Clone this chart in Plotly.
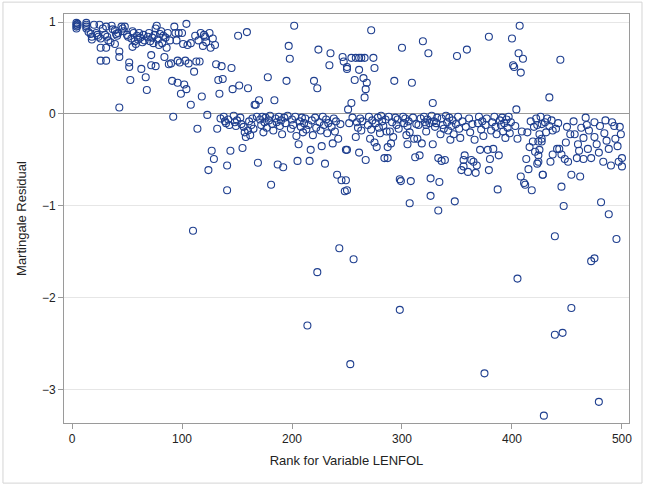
import plotly.graph_objects as go

# Martingale residuals vs rank of LENFOL

# ranks 1-42
rank_a = [4, 4, 4, 4, 5, 5, 13, 13, 13, 13, 15, 17, 18, 18, 20, 22, 23, 24, 25, 26,
          26, 26, 28, 30, 31, 31, 31, 32, 33, 35, 36, 37, 39, 39, 40, 41, 42]
resid_a = [0.99, 0.97, 0.95, 0.93, 0.98, 0.96, 0.99, 0.97, 0.95, 0.93, 0.89, 0.87, 0.84, 0.81, 0.97, 0.88, 0.86, 0.84, 0.97, 0.82,
           0.72, 0.58, 0.93, 0.86, 0.95, 0.72, 0.58, 0.84, 0.80, 0.78, 0.96, 0.92, 0.91, 0.76, 0.87, 0.85, 0.88]

# ranks 43-80
rank_b = [43, 43, 43, 45, 46, 47, 48, 50, 51, 52, 52, 53, 54, 55, 55, 56, 57, 58, 59, 60,
          61, 62, 63, 64, 65, 66, 67, 68, 69, 70, 71, 72, 72, 73, 74, 75, 76, 76, 77, 78,
          79, 80]
resid_b = [0.68, 0.62, 0.07, 0.95, 0.93, 0.90, 0.95, 0.86, 0.84, 0.56, 0.51, 0.37, 0.82, 0.90, 0.73, 0.88, 0.79, 0.76, 0.85, 0.81,
           0.88, 0.83, 0.49, 0.78, 0.86, 0.80, 0.40, 0.26, 0.84, 0.88, 0.79, 0.64, 0.53, 0.83, 0.77, 0.86, 0.93, 0.52, 0.96, 0.81,
           0.75, 0.87]

# ranks 81-130
rank_c = [81, 82, 83, 84, 85, 86, 87, 88, 89, 90, 91, 92, 93, 94, 95, 96, 96, 97, 98, 99,
          100, 101, 102, 103, 104, 104, 105, 106, 108, 108, 110, 111, 112, 113, 114, 115, 116, 117, 118, 119,
          120, 121, 122, 123, 124, 125, 126, 127, 128, 129, 130]
resid_c = [0.90, 0.77, 0.85, 0.62, 0.83, 0.72, 0.88, 0.54, 0.80, 0.55, 0.36, -0.03, 0.95, 0.88, 0.80, 0.58, 0.34, 0.88, 0.56, 0.22,
           0.88, 0.76, 0.32, 0.58, 0.27, 0.98, 0.75, 0.55, 0.10, 0.77, -1.27, 0.46, 0.85, 0.57, -0.16, 0.80, 0.57, 0.88, 0.19, 0.74,
           0.86, 0.84, 0.78, -0.01, -0.61, 0.88, 0.72, -0.40, 0.82, -0.49, 0.75]

# ranks 131-170
rank_d = [131, 132, 133, 134, 135, 136, 137, 138, 139, 140, 141, 141, 142, 143, 144, 145, 146, 147, 148, 149,
          150, 151, 152, 153, 154, 155, 156, 157, 158, 159, 160, 160, 161, 162, 163, 164, 165, 166, 167, 168,
          169, 170]
resid_d = [0.54, -0.16, 0.37, 0.22, -0.05, 0.52, 0.38, -0.03, -0.08, -0.10, -0.56, -0.83, -0.06, -0.12, -0.40, 0.50, 0.27, -0.02, -0.09, -0.13,
           -0.07, 0.85, 0.31, -0.04, -0.11, -0.37, -0.14, -0.20, -0.25, 0.89, 0.28, -0.18, -0.08, -0.23, -0.12, -0.05, -0.16, 0.10, 0.10, -0.03,
           -0.53, 0.15]

# ranks 171-250
rank_e = [171, 172, 173, 174, 175, 176, 177, 178, 179, 180, 181, 182, 183, 184, 185, 186, 187, 188, 189, 190,
          191, 192, 193, 194, 195, 196, 197, 198, 199, 200, 201, 202, 203, 204, 205, 206, 207, 208, 209, 210,
          211, 212, 213, 214, 215, 216, 217, 218, 219, 220, 221, 222, 223, 223, 224, 225, 226, 227, 228, 229,
          230, 231, 232, 233, 234, 235, 236, 237, 238, 239, 240, 241, 242, 243, 244, 245, 246, 247, 248, 249,
          250]
resid_e = [-0.06, -0.12, -0.03, -0.20, -0.09, -0.04, -0.15, 0.40, -0.07, -0.02, -0.77, -0.11, -0.18, 0.15, -0.05, -0.09, -0.55, -0.03, -0.13, -0.07,
           -0.22, -0.58, -0.04, -0.10, 0.36, -0.02, 0.74, 0.60, -0.16, -0.06, -0.12, 0.96, -0.03, -0.24, -0.51, -0.33, -0.08, -0.14, -0.04, -0.20,
           -0.10, -0.05, -0.17, -2.30, -0.12, -0.51, -0.39, -0.07, -0.23, 0.36, -0.04, -0.15, 0.28, -1.72, 0.70, -0.09, -0.18, -0.35, -0.03, -0.12,
           -0.54, -0.06, -0.21, -0.10, 0.53, 0.66, -0.14, -0.32, -0.05, -0.19, -0.08, -0.66, -0.27, -1.46, -0.11, -0.72, 0.62, 0.57, -0.84, -0.39,
           0.51]

# ranks 250-340
rank_f = [250, 251, 250, 249, 250, 252, 253, 254, 254, 255, 256, 257, 258, 258, 259, 260, 261, 261, 261, 262,
          263, 263, 264, 265, 266, 266, 267, 267, 268, 269, 270, 271, 272, 272, 273, 274, 275, 275, 276, 277,
          278, 279, 280, 281, 282, 283, 284, 285, 286, 287, 287, 288, 289, 290, 291, 292, 293, 294, 295, 296,
          297, 298, 298, 299, 300, 301, 302, 303, 304, 305, 305, 306, 307, 307, 308, 309, 310, 311, 312, 313,
          314, 315, 316, 317, 318, 319, 320, 321, 322, 322, 323, 324, 325, 326, 326, 327, 328, 328, 329, 330,
          331, 332, 333, 333, 334, 335, 336, 336, 337, 338, 339, 340]
resid_f = [0.49, 0.05, -0.39, -0.72, -0.83, -0.10, -2.72, 0.61, 0.12, -0.04, -1.58, 0.37, 0.61, -0.25, -0.09, -0.15, 0.61, 0.48, -0.42, -0.05,
           0.61, -0.18, -0.08, 0.39, 0.61, 0.18, 0.27, -0.50, 0.34, -0.12, -0.03, -0.27, 0.91, -0.17, -0.07, 0.61, 0.50, -0.31, -0.10, -0.36,
           -0.04, -0.15, -0.21, -0.02, -0.08, -0.13, -0.48, -0.06, -0.19, -0.48, -0.36, -0.03, -0.19, -0.32, -0.09, -0.25, 0.36, -0.04, -0.12, -0.06,
           -0.16, -0.71, -2.13, -0.73, 0.72, -0.03, -0.10, -0.05, -0.23, -0.13, -0.33, -0.08, -0.20, -0.97, -0.73, 0.34, -0.04, -0.27, -0.47, -0.11,
           -0.27, -0.12, -0.45, -0.05, -0.32, 0.79, -0.03, -0.09, -0.12, -0.19, -0.06, 0.66, -0.10, -0.70, -0.89, -0.02, 0.12, -0.33, -0.08, -0.14,
           -0.10, -0.04, -0.48, -1.05, -0.74, -0.22, -0.05, -0.51, -0.12, -0.16, -0.50, -0.02]

# ranks 341-429
rank_g = [341, 342, 343, 344, 345, 346, 347, 348, 349, 350, 351, 352, 353, 354, 355, 356, 356, 357, 358, 359,
          360, 361, 362, 363, 364, 365, 366, 367, 368, 369, 370, 371, 372, 373, 374, 375, 376, 377, 378, 379,
          379, 380, 381, 382, 383, 384, 385, 386, 387, 388, 389, 390, 391, 392, 393, 394, 395, 396, 397, 398,
          399, 400, 401, 402, 403, 404, 405, 405, 406, 407, 408, 408, 409, 410, 411, 412, 413, 414, 415, 416,
          417, 418, 419, 420, 421, 422, 423, 423, 424, 425, 426, 427, 428, 429]
resid_g = [-0.09, -0.18, -0.04, -0.28, -0.13, -0.07, -0.22, -0.95, -0.11, 0.63, -0.03, -0.16, -0.26, -0.61, -0.08, -0.50, -0.57, -0.45, -0.14, 0.70,
           -0.63, -0.05, -0.20, -0.50, -0.11, -0.52, -0.28, -0.64, -0.56, -0.10, -0.03, -0.39, -0.17, -0.08, -0.24, -2.82, -0.12, -0.05, -0.39, 0.84,
           -0.61, -0.49, -0.18, -0.09, -0.38, -0.03, -0.14, -0.22, -0.82, -0.45, -0.07, -0.12, -0.04, -0.19, -0.10, -0.26, -0.06, -0.15, -0.03, -0.21,
           -0.09, 0.82, 0.53, 0.51, -0.13, 0.05, -0.27, -1.79, 0.66, 0.96, 0.45, -0.68, -0.19, 0.60, -0.75, -0.77, -0.49, -0.20, -0.60, -0.36,
           -0.08, -0.83, -0.30, -0.14, -0.41, -0.05, -0.54, -0.12, -0.45, -0.22, -0.03, -0.30, -0.66, -3.28]

# ranks 424-500
rank_h = [432, 430, 427, 434, 437, 440, 427, 424, 425, 424, 428, 435, 437, 441, 443, 445, 448, 450, 453, 457,
          451, 454, 462, 445, 459, 460, 465, 461, 467, 468, 465, 469, 472, 475, 475, 479, 480, 483, 485, 486,
          488, 490, 493, 494, 497, 498, 499, 500, 500, 481, 488, 439, 495, 444, 434, 447, 439, 446, 454, 472,
          475, 479, 431, 436, 442, 449, 456, 463, 470, 477, 484, 491, 496]
resid_h = [-0.05, -0.09, -0.11, -0.13, -0.18, -0.16, -0.27, -0.30, -0.39, -0.52, -0.66, -0.52, -0.44, -0.38, -0.38, -0.44, -0.49, -0.14, -0.22, -0.22,
           -0.52, -0.66, -0.68, -0.79, -0.48, -0.33, -0.26, -0.40, -0.04, -0.12, -0.49, -0.38, -0.48, -0.09, -0.25, -0.42, -0.13, -0.52, -0.07, -0.29,
           -0.38, -0.56, -0.13, -0.27, -0.52, -0.14, -0.22, -0.48, -0.57, -0.96, -1.09, -1.33, -1.36, 0.59, 0.18, -1.00, -2.40, -2.38, -2.11, -1.60,
           -1.57, -3.13, -0.20, -0.07, -0.10, -0.31, -0.08, -0.15, -0.18, -0.33, -0.21, -0.09, -0.35]

x_ticks = [0, 100, 200, 300, 400, 500]
y_ticks = [-3, -2, -1, 0, 1]

rank = rank_a + rank_b + rank_c + rank_d + rank_e + rank_f + rank_g + rank_h
resid = resid_a + resid_b + resid_c + resid_d + resid_e + resid_f + resid_g + resid_h

font_family = "Liberation Sans, Arial, sans-serif"
axis_grey = "#9a9a9a"

fig = go.Figure()

fig.add_trace(go.Scatter(
    x=rank,
    y=resid,
    mode="markers",
    marker=dict(symbol="circle-open", size=7, color="#1f3f8f", line=dict(width=1.1, color="#1f3f8f")),
    showlegend=False,
    hovertemplate="Rank: %{x}<br>Residual: %{y}<extra></extra>",
))

# light frame around the whole graph
fig.add_shape(
    type="rect", xref="paper", yref="paper",
    x0=-0.108, x1=1.023, y0=-0.147, y1=1.029,
    line=dict(color="#d4d4d4", width=1),
    layer="below",
)

fig.update_layout(
    width=646,
    height=486,
    margin=dict(l=64, r=17, t=14, b=63),
    paper_bgcolor="white",
    plot_bgcolor="white",
    font=dict(family=font_family, size=12, color="#222222"),
    xaxis=dict(
        range=[-7.3, 506.4],
        tickmode="array",
        tickvals=x_ticks,
        ticks="outside",
        ticklen=5,
        tickcolor=axis_grey,
        showgrid=False,
        zeroline=False,
        showline=True,
        linecolor=axis_grey,
        linewidth=1,
        mirror=True,
        tickfont=dict(size=12, color="#222222"),
        title=dict(text="Rank for Variable LENFOL", font=dict(size=13, color="#222222"), standoff=10),
        automargin=False,
    ),
    yaxis=dict(
        range=[-3.36, 1.087],
        tickmode="array",
        tickvals=y_ticks,
        ticks="outside",
        ticklen=5,
        tickcolor=axis_grey,
        showgrid=True,
        gridcolor="#e6e6e6",
        gridwidth=1,
        zeroline=True,
        zerolinecolor=axis_grey,
        zerolinewidth=1,
        showline=True,
        linecolor=axis_grey,
        linewidth=1,
        mirror=True,
        tickfont=dict(size=12, color="#222222"),
        title=dict(text="Martingale Residual", font=dict(size=13, color="#222222"), standoff=12),
        automargin=False,
    ),
)

# drop the default page margin so the figure sits at the window origin, no modebar
fig.write_html(
    "out.html",
    config={"displayModeBar": False},
    post_script="document.body.style.margin='0';",
)
